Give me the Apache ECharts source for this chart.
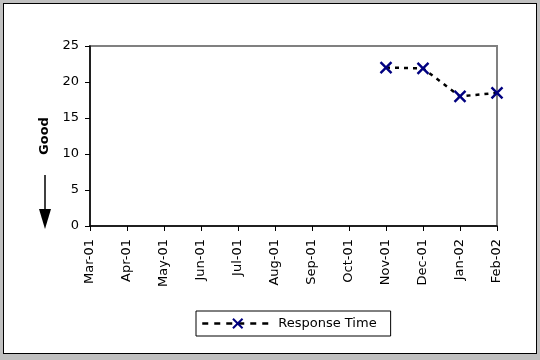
<!DOCTYPE html>
<html><head><meta charset="utf-8">
<script src="https://cdn.jsdelivr.net/npm/echarts@6/dist/echarts.min.js"></script>
<style>
html,body{margin:0;padding:0;background:#c0c0c0;}
#frame{position:absolute;left:3px;top:3px;width:532px;height:349px;background:#fff;border:1px solid #000;}
#chart{position:absolute;left:0;top:0;width:540px;height:360px;}
</style></head>
<body>
<div id="frame"></div>
<div id="chart"></div>
<script>
const categories = ['Mar-01','Apr-01','May-01','Jun-01','Jul-01','Aug-01','Sep-01','Oct-01','Nov-01','Dec-01','Jan-02','Feb-02'];
const responseTime = [null,null,null,null,null,null,null,null,22.0,21.9,18.0,18.5];
const yTicks = [0,5,10,15,20,25];

const chart = echarts.init(document.getElementById('chart'));
const font = 'DejaVu Sans, sans-serif';
chart.setOption({
  animation:false,
  textStyle:{fontFamily:font},
  grid:{left:90,right:43,top:46,bottom:134,show:true,borderColor:'#808080',borderWidth:2,backgroundColor:'transparent'},
  xAxis:{type:'category',data:categories,boundaryGap:false,
    axisLine:{lineStyle:{color:'#000',width:1.5}},
    axisTick:{show:true,length:5,lineStyle:{color:'#000'},alignWithLabel:true},
    axisLabel:{rotate:90,color:'#000',fontSize:13,fontFamily:font,margin:13,interval:0}},
  yAxis:{type:'value',min:yTicks[0],max:yTicks[yTicks.length-1],interval:5,
    name:'Good',nameLocation:'middle',nameRotate:90,nameGap:37,
    nameTextStyle:{fontWeight:'bold',fontSize:13,color:'#000',fontFamily:font},
    splitLine:{show:false},
    axisLine:{show:true,lineStyle:{color:'#000',width:1.5}},
    axisTick:{show:true,length:5,lineStyle:{color:'#000'}},
    axisLabel:{color:'#000',fontSize:13,fontFamily:font,margin:11}},
  legend:{show:true,left:196,top:311,padding:[6,14,6,5],
    borderColor:'#000',borderWidth:1,backgroundColor:'#fff',
    itemWidth:71,itemHeight:12,itemGap:8,
    lineStyle:{type:[6,6],width:2.5,color:'#000'},
    textStyle:{fontSize:13,color:'#000',fontFamily:font},
    data:['Response Time']},
  series:[{name:'Response Time',type:'line',data:responseTime,
    symbol:'path://M0,0L10,10M10,0L0,10',symbolSize:11,
    itemStyle:{color:'#000080',borderColor:'#000080',borderWidth:2.4},
    lineStyle:{color:'#000',width:2.5,type:[4,5]},
    connectNulls:false}],
  graphic:[
    {type:'line',shape:{x1:45,y1:175,x2:45,y2:212},style:{stroke:'#000',lineWidth:1.5}},
    {type:'polygon',shape:{points:[[39,209],[51,209],[45,229]]},style:{fill:'#000'}}
  ]
});
</script>
</body></html>
